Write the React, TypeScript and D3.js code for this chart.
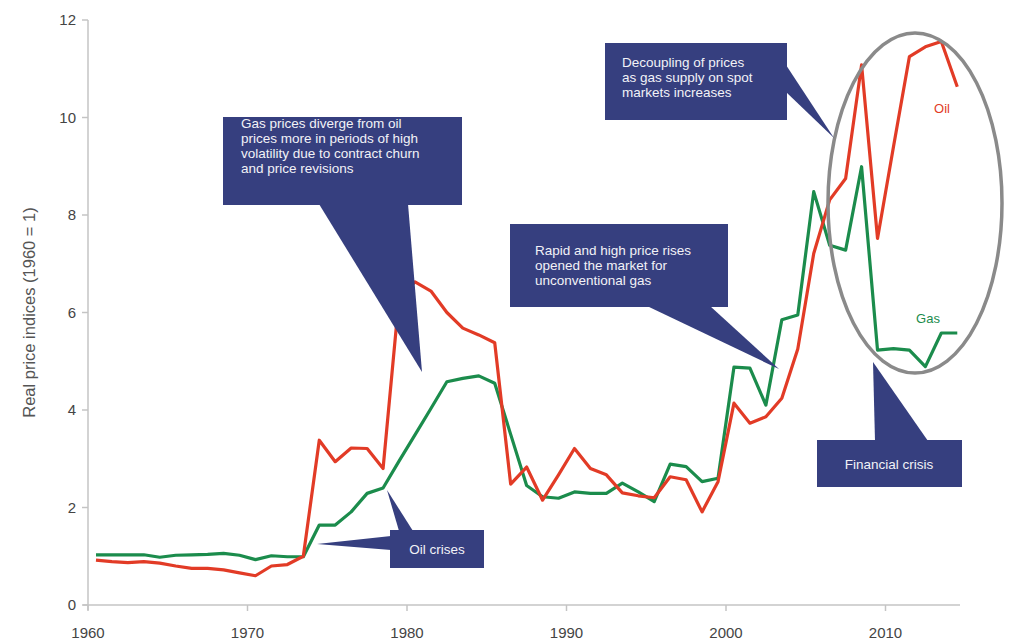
import React from "react";
import * as d3 from "d3";

const startYear = 1960;
const oilValues = [
  0.92, 0.89, 0.87, 0.89, 0.86, 0.8, 0.75, 0.75, 0.72, 0.66,
  0.6, 0.8, 0.83, 1.0, 3.38, 2.94, 3.22, 3.21, 2.8, 6.3,
  6.63, 6.44, 6.0, 5.68, 5.54, 5.38, 2.48, 2.83, 2.15, 2.67,
  3.21, 2.8, 2.67, 2.3, 2.24, 2.2, 2.63, 2.57, 1.91, 2.53,
  4.14, 3.73, 3.86, 4.24, 5.25, 7.21, 8.31, 8.75, 11.08, 7.52,
  9.4, 11.25, 11.45, 11.56, 10.63,
];
const gasValues = [
  1.03, 1.03, 1.03, 1.03, 0.98, 1.02, 1.03, 1.04, 1.06, 1.02,
  0.93, 1.01, 0.99, 0.99, 1.64, 1.64, 1.91, 2.29, 2.4, 2.95,
  3.49, 4.03, 4.58, 4.65, 4.7, 4.55, 3.5, 2.45, 2.22, 2.19,
  2.32, 2.29, 2.29, 2.5, 2.32, 2.12, 2.89, 2.84, 2.53, 2.6,
  4.88, 4.86, 4.1, 5.85, 5.95, 8.48, 7.38, 7.28, 8.99, 5.23,
  5.26, 5.23, 4.89, 5.58, 5.58,
];
const xTicks = [1960, 1970, 1980, 1990, 2000, 2010];
const yTicks = [0, 2, 4, 6, 8, 10, 12];

const NAVY = "#363f7f";
const OIL = "#e23b26";
const GAS = "#1b8c4c";

type Callout = {
  box: [number, number, number, number];
  lines: string[];
  textX: number;
  textY: number;
  center?: boolean;
  pointers: [number, number][][];
};

const callouts: Callout[] = [
  {
    box: [223, 117, 462, 205],
    lines: [
      "Gas prices diverge from oil",
      "prices more in periods of high",
      "volatility due to contract churn",
      "and price revisions",
    ],
    textX: 241,
    textY: 128,
    pointers: [[[319, 204], [408, 204], [422, 372]]],
  },
  {
    box: [390, 530, 484, 568],
    lines: ["Oil crises"],
    textX: 437,
    textY: 554,
    center: true,
    pointers: [
      [[391, 536], [391, 550], [317, 544]],
      [[399, 531], [413, 531], [387, 490]],
    ],
  },
  {
    box: [510, 224, 728, 307],
    lines: ["Rapid and high price rises", "opened the market for", "unconventional gas"],
    textX: 535,
    textY: 255,
    pointers: [[[647, 306], [710, 306], [779, 369]]],
  },
  {
    box: [605, 43, 787, 120],
    lines: ["Decoupling of prices", "as gas supply on spot", "markets increases"],
    textX: 622,
    textY: 67,
    pointers: [[[786, 65], [786, 92], [834, 138]]],
  },
  {
    box: [817, 440, 962, 487],
    lines: ["Financial crisis"],
    textX: 889,
    textY: 469,
    center: true,
    pointers: [[[873, 362], [875, 441], [928, 441]]],
  },
];

export default function App() {
  const x = d3.scaleLinear().domain([1960, 2010]).range([88, 885.5]);
  const y = d3.scaleLinear().domain([0, 12]).range([605, 20]);
  const years = oilValues.map((_, i) => startYear + i);
  const line = d3
    .line<number>()
    .x((_, i) => x(years[i] + 0.5))
    .y((v) => y(v))
    .curve(d3.curveLinear);

  const font = "Liberation Sans, Arial, sans-serif";

  return (
    <svg
      width={1010}
      height={641}
      style={{ position: "absolute", left: 0, top: 0, background: "#fff" }}
      fontFamily={font}
    >
      <line x1={x(1960)} x2={x(1960)} y1={y(12)} y2={y(0) + 5} stroke="#c4c4c4" strokeWidth={1.5} />
      <line x1={x(1960) - 5} x2={960} y1={y(0)} y2={y(0)} stroke="#c4c4c4" strokeWidth={1.5} />
      {yTicks.map((t) => (
        <g key={"y" + t}>
          <line x1={x(1960) - 6} x2={x(1960)} y1={y(t)} y2={y(t)} stroke="#c4c4c4" strokeWidth={1.5} />
          <text x={x(1960) - 12} y={y(t) + 5} textAnchor="end" fontSize={15} fill="#444">
            {t}
          </text>
        </g>
      ))}
      {xTicks.map((t) => (
        <g key={"x" + t}>
          <line x1={x(t)} x2={x(t)} y1={y(0)} y2={y(0) + 6} stroke="#c4c4c4" strokeWidth={1.5} />
          <text x={x(t)} y={638} textAnchor="middle" fontSize={15} fill="#444">
            {t}
          </text>
        </g>
      ))}
      <text
        transform={`translate(35,${y(6)}) rotate(-90)`}
        textAnchor="middle"
        fontSize={16.5}
        fill="#555"
      >
        Real price indices (1960 = 1)
      </text>

      <path d={line(gasValues) || ""} fill="none" stroke={GAS} strokeWidth={3.2} strokeLinejoin="round" />
      <path d={line(oilValues) || ""} fill="none" stroke={OIL} strokeWidth={3.2} strokeLinejoin="round" />

      <ellipse cx={915} cy={203} rx={87} ry={170} fill="none" stroke="#8a8a8a" strokeWidth={3.5} />
      <text x={942} y={113} textAnchor="middle" fontSize={13} fill={OIL}>
        Oil
      </text>
      <text x={928} y={323} textAnchor="middle" fontSize={13} fill={GAS}>
        Gas
      </text>

      {callouts.map((c, i) => (
        <g key={"c" + i}>
          <rect x={c.box[0]} y={c.box[1]} width={c.box[2] - c.box[0]} height={c.box[3] - c.box[1]} fill={NAVY} />
          {c.pointers.map((p, j) => (
            <polygon key={j} points={p.map((q) => q.join(",")).join(" ")} fill={NAVY} />
          ))}
          {c.lines.map((l, k) => (
            <text
              key={k}
              x={c.textX}
              y={c.textY + k * 15}
              textAnchor={c.center ? "middle" : "start"}
              fontSize={13.5}
              fill="#f2f2f7"
            >
              {l}
            </text>
          ))}
        </g>
      ))}
    </svg>
  );
}
